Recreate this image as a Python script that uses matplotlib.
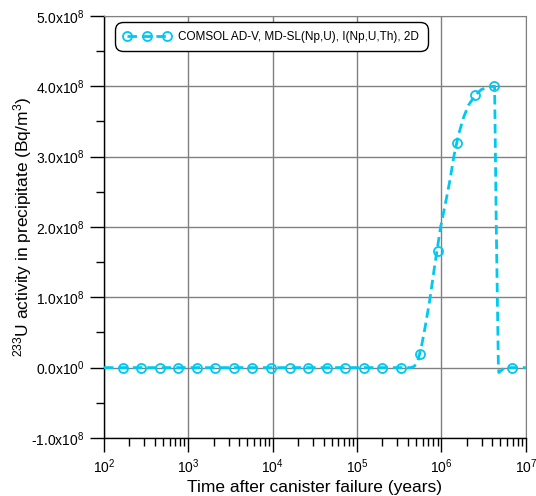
import matplotlib
matplotlib.use("Agg")
import matplotlib.pyplot as plt
from matplotlib.lines import Line2D
from matplotlib.ticker import FuncFormatter, LogLocator, LogFormatterMathtext, MultipleLocator
import numpy as np

plt.rcParams["font.family"] = ["Liberation Sans", "DejaVu Sans"]
plt.rcParams["mathtext.fontset"] = "custom"
plt.rcParams["mathtext.rm"] = "Liberation Sans"
plt.rcParams["mathtext.default"] = "regular"

CYAN = "#00c8f0"
LABEL = "COMSOL AD-V, MD-SL(Np,U), I(Np,U,Th), 2D"

# dashed curve (log10 of years, activity in 1e8 Bq/m3)
curve_logt = [2.0, 5.64, 5.68, 5.72, 5.76, 5.81, 5.86, 5.92, 5.99, 6.05, 6.10,
              6.15, 6.20, 6.26, 6.32, 6.40, 6.47, 6.55, 6.63, 6.635, 6.65,
              6.665, 6.675, 6.68, 6.72, 6.75, 7.0]
curve_val = [0.0, 0.0, 0.02, 0.10, 0.28, 0.60, 0.95, 1.45, 2.0, 2.35, 2.66,
             3.02, 3.30, 3.55, 3.73, 3.87, 3.95, 3.99, 4.0, 3.5, 2.0,
             0.8, 0.0, -0.07, -0.03, 0.0, 0.0]

# open-circle markers (years, 1e8 Bq/m3)
mark_t = [166, 275, 457, 759, 1259, 2089, 3467, 5754, 9550, 15849, 26303,
          43652, 72444, 120226, 199526, 331131, 549541, 912011, 1513561,
          2511886, 4168694, 6918310]
mark_val = [0, 0, 0, 0, 0, 0, 0, 0, 0, 0, 0, 0, 0, 0, 0, 0,
            0.20, 1.66, 3.20, 3.87, 4.0, 0.0]

fig = plt.figure(figsize=(5.36, 4.96), dpi=100)
ax = fig.add_axes([0.194, 0.117, 0.787, 0.851])

ax.plot(10 ** np.array(curve_logt), np.array(curve_val) * 1e8, color=CYAN,
        lw=2.0, dashes=(3.4, 1.8), zorder=3)
ax.plot(mark_t, np.array(mark_val) * 1e8, ls="none", marker="o", ms=6.5,
        mfc="none", mec=CYAN, mew=1.3, zorder=4)

ax.set_xscale("log")
ax.set_xlim(1e2, 1e7)
ax.set_ylim(-1e8, 5e8)
ax.yaxis.set_major_locator(MultipleLocator(1e8))
ax.yaxis.set_minor_locator(MultipleLocator(0.5e8))
ax.xaxis.set_major_locator(LogLocator(base=10, numticks=10))
ax.xaxis.set_minor_locator(LogLocator(base=10, subs=np.arange(2, 10), numticks=20))
ax.xaxis.set_major_formatter(LogFormatterMathtext())


def yfmt(v, pos):
    if abs(v) < 1:
        return "0.0x10$^{0}$"
    e = int(np.floor(np.log10(abs(v))))
    return f"{v / 10 ** e:.1f}x10$^{{{e}}}$"


ax.yaxis.set_major_formatter(FuncFormatter(yfmt))
ax.tick_params(which="major", direction="out", length=10, width=1, labelsize=10,
               pad=4)
ax.tick_params(which="minor", direction="out", length=6, width=1)

ax.grid(True, which="major", color="#808080", lw=1)
for s in ["top", "right"]:
    ax.spines[s].set_color("#808080")
for s in ["left", "bottom"]:
    ax.spines[s].set_linewidth(1)

ax.set_xlabel("Time after canister failure (years)", fontsize=12.5, labelpad=3)
ax.set_ylabel("$^{233}$U activity in precipitate (Bq/m$^3$)", fontsize=12.5,
              labelpad=-2)

handle = Line2D([], [], color=CYAN, lw=2.0, dashes=(3.4, 1.8), marker="o",
                ms=6.5, mfc="none", mec=CYAN, mew=1.3)
leg = ax.legend([handle], [LABEL], loc="upper left", bbox_to_anchor=(0.026, 0.986),
                borderaxespad=0, fontsize=8.5, numpoints=3, fancybox=True,
                framealpha=1, edgecolor="black", handlelength=4.0,
                borderpad=0.75, handletextpad=0.6)
leg.get_frame().set_linewidth(1)
leg.get_frame().set_boxstyle("round", pad=0, rounding_size=0.7)

fig.savefig("out.png", dpi=100)
